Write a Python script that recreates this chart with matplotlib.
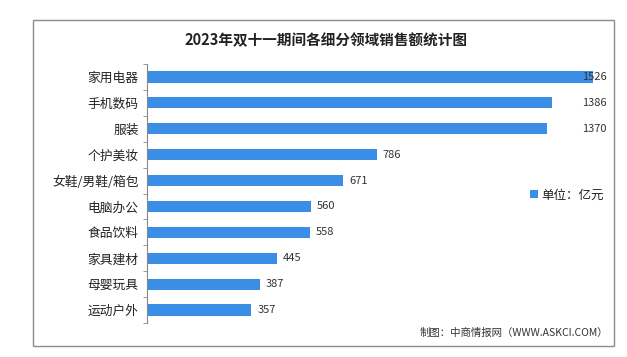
import matplotlib
matplotlib.use('Agg')
import matplotlib.pyplot as plt
from matplotlib.patches import Rectangle
import numpy as np

plt.rcParams['font.family'] = ['Noto Sans CJK SC', 'DejaVu Sans']

# 2023 双十一 各细分领域销售额 (亿元)
categories = ['家用电器', '手机数码', '服装', '个护美妆', '女鞋/男鞋/箱包',
              '电脑办公', '食品饮料', '家具建材', '母婴玩具', '运动户外']
values = [1526, 1386, 1370, 786, 671, 560, 558, 445, 387, 357]

title = '2023年双十一期间各细分领域销售额统计图'
unit_label = '单位：亿元'
source = '制图：中商情报网（WWW.ASKCI.COM）'
bar_color = '#3a8ee6'

fig = plt.figure(figsize=(6.27, 3.57), dpi=100)
fig.patch.set_facecolor('white')

# outer frame
fig.patches.append(Rectangle((33 / 627, 11 / 357), 581 / 627, 326 / 357,
                             transform=fig.transFigure, fill=False,
                             edgecolor='#8c8c8c', linewidth=1.0))

ax = fig.add_axes([147 / 627, 34 / 357, 458 / 627, 259 / 357])
y = np.arange(len(categories))
ax.barh(y, values, height=0.43, color=bar_color)
ax.set_ylim(len(categories) - 0.5, -0.5)
xmax = 1567
ax.set_xlim(0, xmax)

for yi, v in zip(y, values):
    if v + 250 > xmax:
        # no room: label is pulled back over the bar end
        ax.text(xmax + 5, yi, str(v), va='center', ha='right', fontsize=8, color='#333333', clip_on=False)
    else:
        ax.text(v + 20, yi, str(v), va='center', ha='left', fontsize=8, color='#333333')

ax.set_yticks(y)
ax.set_yticklabels(categories, fontsize=9.2, color='#222222')
ax.tick_params(axis='y', which='major', length=0, pad=6)
ax.set_yticks(np.arange(-0.5, len(categories), 1), minor=True)
ax.tick_params(axis='y', which='minor', length=3, color='#888888', direction='out')
ax.set_xticks([])
for s in ['top', 'right', 'bottom']:
    ax.spines[s].set_visible(False)
ax.spines['left'].set_color('#888888')
ax.spines['left'].set_linewidth(0.8)

fig.text(326 / 627, 1 - 40 / 357, title, ha='center', va='center',
         fontsize=10.5, fontweight='bold', color='#222222')

# legend
fig.patches.append(Rectangle((530 / 627, 1 - 198 / 357), 8 / 627, 8 / 357,
                             transform=fig.transFigure, facecolor=bar_color, edgecolor='none'))
fig.text(541 / 627, 1 - 195 / 357, unit_label, ha='left', va='center',
         fontsize=9, color='#222222')

fig.text(608 / 627, 1 - 333 / 357, source, ha='right', va='center',
         fontsize=7.5, color='#333333')

fig.savefig('out.png', dpi=100)
